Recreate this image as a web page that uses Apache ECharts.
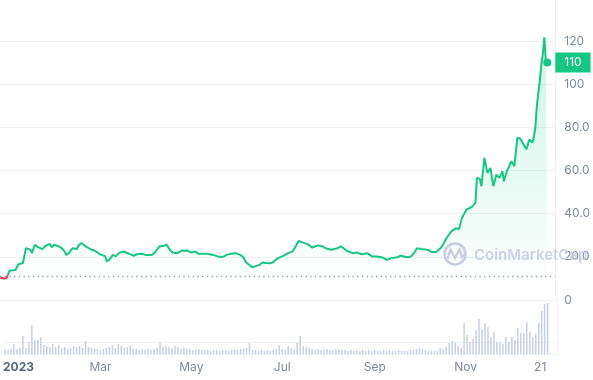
<!DOCTYPE html>
<html><head><meta charset="utf-8">
<script src="https://cdn.jsdelivr.net/npm/echarts@6/dist/echarts.min.js"></script>
<style>html,body{margin:0;padding:0;background:#fff}#c{width:593px;height:380px}</style>
</head><body><div id="c"></div>
<script>
// ---- data ----
const priceDates = [
'2022-12-27','2022-12-29','2022-12-31','2023-01-01','2023-01-02','2023-01-06','2023-01-08','2023-01-11','2023-01-13','2023-01-14',
'2023-01-16','2023-01-17','2023-01-19','2023-01-21','2023-01-24','2023-01-26','2023-01-29','2023-01-30','2023-02-01','2023-02-05',
'2023-02-07','2023-02-09','2023-02-11','2023-02-13','2023-02-16','2023-02-17','2023-02-19','2023-02-22','2023-02-25','2023-02-28',
'2023-03-03','2023-03-07','2023-03-08','2023-03-10','2023-03-12','2023-03-14','2023-03-16','2023-03-19','2023-03-21','2023-03-23',
'2023-03-26','2023-03-28','2023-03-31','2023-04-03','2023-04-07','2023-04-09','2023-04-12','2023-04-15','2023-04-17','2023-04-19',
'2023-04-21','2023-04-24','2023-04-27','2023-04-29','2023-05-01','2023-05-03','2023-05-06','2023-05-08','2023-05-11','2023-05-14',
'2023-05-18','2023-05-21','2023-05-24','2023-05-27','2023-05-30','2023-06-02','2023-06-05','2023-06-07','2023-06-09','2023-06-11',
'2023-06-13','2023-06-16','2023-06-18','2023-06-20','2023-06-22','2023-06-25','2023-06-27','2023-06-29','2023-07-01','2023-07-03',
'2023-07-07','2023-07-10','2023-07-12','2023-07-14','2023-07-16','2023-07-20','2023-07-23','2023-07-27','2023-07-30','2023-08-02',
'2023-08-05','2023-08-09','2023-08-11','2023-08-13','2023-08-15','2023-08-19','2023-08-22','2023-08-25','2023-08-29','2023-09-01',
'2023-09-04','2023-09-08','2023-09-11','2023-09-14','2023-09-18','2023-09-20','2023-09-24','2023-09-27','2023-09-29','2023-10-01',
'2023-10-04','2023-10-08','2023-10-11','2023-10-14','2023-10-17','2023-10-19','2023-10-20','2023-10-22','2023-10-24','2023-10-27',
'2023-10-29','2023-10-31','2023-11-03','2023-11-05','2023-11-07','2023-11-09','2023-11-10','2023-11-12','2023-11-13','2023-11-15',
'2023-11-17','2023-11-19','2023-11-21','2023-11-23','2023-11-25','2023-11-27','2023-11-28','2023-11-30','2023-12-03','2023-12-05',
'2023-12-07','2023-12-09','2023-12-13','2023-12-15','2023-12-17','2023-12-18','2023-12-19','2023-12-20','2023-12-21','2023-12-22',
'2023-12-23','2023-12-24','2023-12-25','2023-12-26','2023-12-27'];
const priceValues = [
10.4,10.0,10.1,11.6,13.5,13.9,16.6,17.1,24.0,24.8,
23.3,21.7,25.6,24.5,23.6,25.1,26.0,24.5,25.6,24.5,
23.3,20.9,22.0,24.0,23.6,25.1,26.4,24.8,23.6,22.8,
21.4,20.2,17.8,18.9,20.9,20.2,21.7,22.5,22.0,21.4,
20.5,21.2,21.4,20.9,20.9,22.0,24.8,25.1,25.6,23.3,
22.0,21.7,22.9,22.8,22.9,22.0,22.5,21.4,21.4,21.4,
20.9,20.2,19.9,20.9,21.4,21.7,20.9,19.9,17.4,16.3,
15.2,15.8,16.3,17.4,17.1,17.0,17.5,18.8,19.6,20.2,
21.7,22.5,24.8,27.4,26.8,25.9,24.3,25.3,24.8,23.7,
23.3,24.0,24.8,24.0,22.9,21.7,22.0,21.2,21.7,20.2,
20.2,19.7,18.6,19.4,19.8,20.6,19.8,20.2,21.7,24.0,
23.6,23.3,22.2,22.4,24.2,26.4,27.9,30.0,31.8,33.3,
32.8,38.0,41.9,42.6,43.4,45.0,56.6,56.1,52.7,65.9,
58.9,61.2,52.7,58.1,56.6,59.7,55.0,59.7,64.3,62.0,
75.2,74.7,69.8,74.4,72.9,75.5,80.0,90.0,96.0,102.0,
109.0,114.0,121.7,110.8,110.0];
const baselinePrice = 11.0;           // opening price (dotted line)
const redUntilIndex = 3;              // price stays below the opening price up to this point
const volumeStart = '2022-12-27';     // first volume bar, one bar every 2 days
const volumeStepDays = 2;
const volumeValues = [                // billions USD
0.8,0.8,1.0,2.0,1.0,1.2,3.6,1.2,2.4,5.8,
2.8,2.8,3.4,1.8,1.6,1.4,2.0,1.4,1.8,1.2,
1.4,1.0,1.2,1.6,1.4,1.6,1.2,2.6,1.4,1.2,
1.0,1.0,0.8,1.0,1.2,1.4,1.8,1.2,2.0,1.6,
1.2,1.4,1.8,1.0,1.0,0.8,1.0,0.8,1.0,0.8,
1.0,1.2,2.2,1.4,1.6,1.4,1.2,1.6,1.4,1.0,
1.2,1.0,1.0,0.8,0.8,1.0,0.8,0.8,0.8,0.6,
0.8,0.8,0.6,0.8,0.8,0.6,0.8,1.0,0.8,1.0,
1.0,1.2,2.2,0.8,0.8,0.6,0.8,0.6,0.8,0.6,
0.8,1.0,1.8,1.0,0.8,1.6,1.2,1.0,2.2,3.6,
1.6,1.4,1.2,1.0,0.8,1.0,0.8,0.8,1.0,0.8,
0.8,1.0,0.8,0.8,0.8,0.6,0.8,0.6,0.8,0.6,
0.8,0.6,0.8,0.6,0.8,0.6,0.6,0.8,0.6,0.8,
0.6,0.6,0.8,0.6,0.6,0.6,0.8,0.8,1.0,1.2,
1.0,0.8,0.6,0.6,0.6,0.6,1.2,1.0,1.4,2.2,
2.6,2.4,1.6,1.2,6.2,3.8,2.4,3.0,4.8,7.0,
5.0,6.2,5.4,3.4,4.4,2.4,2.2,2.0,3.4,2.4,
3.4,2.8,5.2,4.2,4.2,6.4,4.4,3.4,4.0,6.2,
8.6,10.0,10.2];
const priceTicks = [0, 20, 40, 60, 80, 100, 120];
const volumeGridTicks = [2.4, 10.8];
const xLabelDates = ['2023-01-01','2023-03-01','2023-05-01','2023-07-01','2023-09-01','2023-11-01','2023-12-21'];
const xLabelTexts = ['2023','Mar','May','Jul','Sep','Nov','21'];

// ---- helpers ----
function ts(s) {
  const parts = s.split(' ');
  const d = parts[0].split('-').map(Number);
  const h = parts[1] ? Number(parts[1].split(':')[0]) : 0;
  return new Date(d[0], d[1] - 1, d[2], h).getTime();
}
const xMin = ts('2022-12-26 17:00');
const xMax = ts('2024-01-01 07:00');
const priceData = priceDates.map((d, i) => [ts(d), priceValues[i]]);
const redData = priceData.slice(0, redUntilIndex + 1);
const greenData = priceData.slice(redUntilIndex);
const vs = volumeStart.split('-').map(Number);
const volumeData = volumeValues.map((v, i) => [new Date(vs[0], vs[1] - 1, vs[2] + volumeStepDays * i).getTime(), v]);
const xLabelTs = xLabelDates.map(ts);
const lastIdx = priceData.length - 1;

const GREEN = '#16c784', RED = '#ea3943', GRID = '#eff2f5', LABEL = '#808a9d';
const WM = '#c8cede';

const chart = echarts.init(document.getElementById('c'), null, {renderer: 'canvas'});
chart.setOption({
  animation: false,
  textStyle: {fontFamily: 'Inter, "Noto Sans", sans-serif'},
  grid: [
    {left: 0, right: 36, top: 0, height: 300},
    {left: 0, right: 36, top: 300, height: 54}
  ],
  xAxis: [
    {type: 'value', gridIndex: 0, min: xMin, max: xMax, scale: true,
     axisLine: {show: false}, axisTick: {show: false}, axisLabel: {show: false}, splitLine: {show: false}},
    {type: 'value', gridIndex: 1, min: xMin, max: xMax, scale: true,
     axisLine: {show: true, lineStyle: {color: GRID}}, axisTick: {show: false, customValues: xLabelTs},
     splitLine: {show: false},
     axisLabel: {
       customValues: xLabelTs, hideOverlap: false, color: LABEL, fontSize: 12, margin: 7,
       formatter: function (v) {
         const i = xLabelTs.indexOf(v);
         const t = i >= 0 ? xLabelTexts[i] : '';
         return i === 0 ? '{yr|' + t + '}' : t;
       },
       rich: {yr: {fontWeight: 'bold', color: '#58667e', fontSize: 12, padding: [0, 0, 0, 12]}}
     }}
  ],
  yAxis: [
    {type: 'value', gridIndex: 0, position: 'right', min: 0, max: 139,
     axisLine: {show: true, lineStyle: {color: GRID}},
     axisTick: {show: false, customValues: priceTicks},
     splitLine: {show: true, lineStyle: {color: GRID}},
     axisLabel: {
       customValues: priceTicks, color: LABEL, fontSize: 12, margin: 9,
       formatter: v => (v === 0 || v >= 100) ? String(v) : v.toFixed(1)
     },
     axisPointer: {
       show: true, status: 'show', value: priceValues[lastIdx], triggerTooltip: false,
       lineStyle: {opacity: 0, width: 0},
       label: {show: true, backgroundColor: GREEN, color: '#fff', fontSize: 12, padding: [4, 9, 4, 9],
               margin: 0, borderRadius: 0, formatter: p => String(Math.round(p.value))}
     }},
    {type: 'value', gridIndex: 1, position: 'right', min: 0, max: 10.8,
     axisLine: {show: true, lineStyle: {color: GRID}},
     axisTick: {show: false, customValues: volumeGridTicks},
     axisLabel: {show: false},
     splitLine: {show: true, lineStyle: {color: GRID}}}
  ],
  series: [
    {
      name: 'price', type: 'line', xAxisIndex: 0, yAxisIndex: 0, data: greenData,
      showSymbol: false, symbol: 'none', z: 3,
      lineStyle: {width: 2, color: GREEN}, itemStyle: {color: GREEN},
      areaStyle: {
        origin: baselinePrice,
        color: new echarts.graphic.LinearGradient(0, 0, 0, 1, [
          {offset: 0, color: 'rgba(22,199,132,0.30)'},
          {offset: 1, color: 'rgba(22,199,132,0.02)'}
        ])
      },
      markLine: {
        silent: true, symbol: ['none', 'none'], label: {show: false},
        lineStyle: {type: [1.3, 3.4], color: '#9aa1b1', width: 1.3},
        data: [{yAxis: baselinePrice}]
      },
      markPoint: {
        silent: true, symbol: 'circle', symbolSize: 8, label: {show: false},
        itemStyle: {color: GREEN},
        data: [{coord: priceData[lastIdx]}]
      }
    },
    {
      name: 'price-below-open', type: 'line', xAxisIndex: 0, yAxisIndex: 0, data: redData,
      showSymbol: false, symbol: 'none', z: 2,
      lineStyle: {width: 2, color: RED}, itemStyle: {color: RED},
      areaStyle: {origin: baselinePrice, color: 'rgba(234,57,67,0.05)'}
    },
    {
      name: 'volume', type: 'bar', xAxisIndex: 1, yAxisIndex: 1, data: volumeData,
      barWidth: 1.5, itemStyle: {color: '#c7cfe1'}
    }
  ],
  graphic: [
    {type: 'circle', z: 100, silent: true, shape: {cx: 455, cy: 254, r: 10.5},
     style: {fill: 'none', stroke: WM, lineWidth: 2.6}},
    {type: 'polyline', z: 100, silent: true,
     shape: {points: [[447.5, 259], [450.5, 249.5], [455, 258], [459.5, 249.5], [462, 257], [465, 254]]},
     style: {fill: 'none', stroke: WM, lineWidth: 2.4}},
    {type: 'text', z: 100, silent: true,
     style: {x: 474, y: 255, text: 'CoinMarketCap', font: '600 15px Inter, sans-serif', fill: WM,
             verticalAlign: 'middle', opacity: 0.9}}
  ]
});
</script>
</body></html>
